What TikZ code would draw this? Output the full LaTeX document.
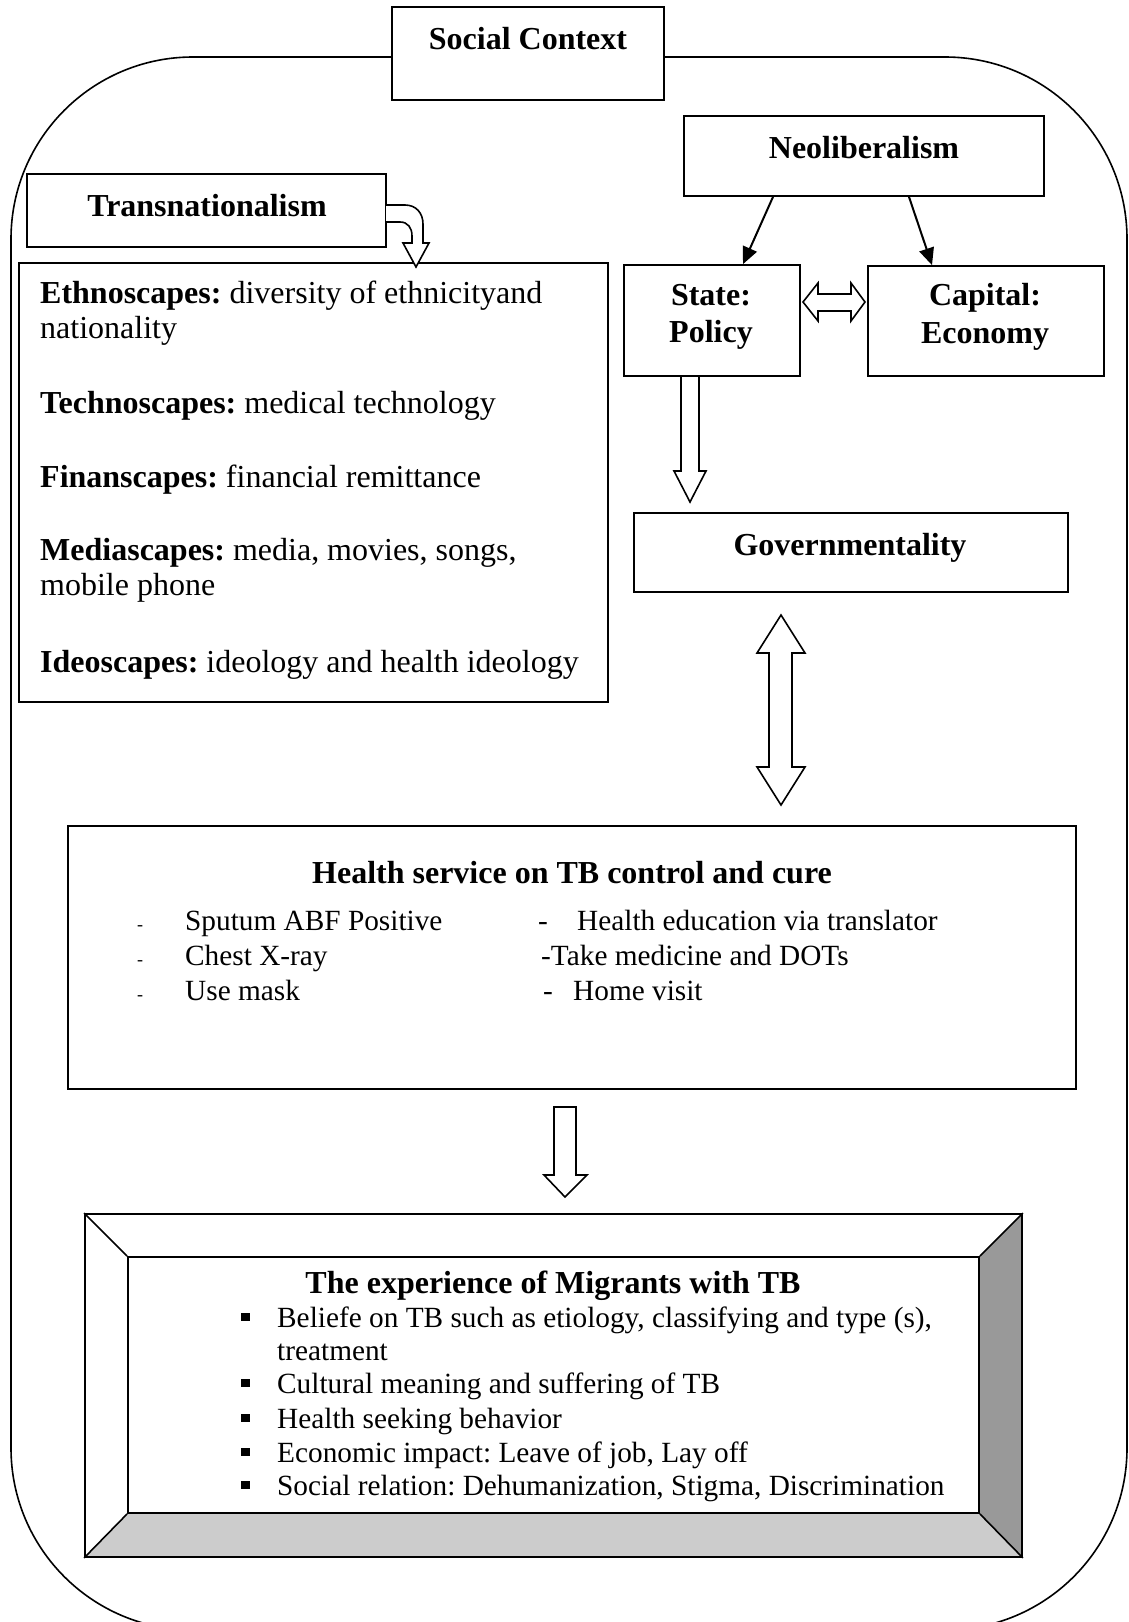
\documentclass[tikz,border=0pt]{standalone}
\usepackage{fontspec}
\setmainfont{Liberation Serif}
\usetikzlibrary{arrows.meta,calc}
\definecolor{bevdark}{RGB}{153,153,153}
\definecolor{bevlight}{RGB}{204,204,204}
\frenchspacing
\tikzset{
  box/.style={draw, line width=1.8pt, inner sep=0pt, fill=white},
  txt/.style={inner sep=0pt, font=\fontsize{29.3}{34}\selectfont},
  stxt/.style={inner sep=0pt, font=\fontsize{32}{35}\selectfont},
  btxt/.style={inner sep=0pt, font=\fontsize{32}{35}\selectfont\bfseries},
  hollow/.style={draw, line width=1.6pt, fill=white, line join=miter},
  thinarrow/.style={line width=2pt, -{Triangle[length=17pt,width=15pt]}},
  smalldash/.style={inner sep=0pt, font=\fontsize{18}{20}\selectfont},
}
\begin{document}
\begin{tikzpicture}[x=1pt,y=-1pt]
\clip (0,0) rectangle (1129,1622);
\fill[white] (0,0) rectangle (1129,1622);
% outer rounded outline
\draw[line width=1.6pt, rounded corners=182pt] (11,57) rectangle (1127,1630);
% boxes
\node[box, minimum width=272pt, minimum height=93pt] (social) at (528,53.5) {};
\node[box, minimum width=359pt, minimum height=73pt] (trans) at (206.5,210.5) {};
\node[box, minimum width=589pt, minimum height=439pt] (scapes) at (313.5,482.5) {};
\node[box, minimum width=360pt, minimum height=80pt] (neo) at (864,156) {};
\node[box, minimum width=176pt, minimum height=111pt] (state) at (712,320.5) {};
\node[box, minimum width=236pt, minimum height=110pt] (capital) at (986,321) {};
\node[box, minimum width=434pt, minimum height=79pt] (gov) at (851,552.5) {};
\node[box, minimum width=1008pt, minimum height=263pt] (health) at (572,957.5) {};

% titles
\node[btxt, anchor=base] at (528,49) {Social Context};
\node[btxt, anchor=base] at (207,216) {Transnationalism};
\node[btxt, anchor=base] at (864,158) {Neoliberalism};
\node[btxt, anchor=base] at (711,305) {State:};
\node[btxt, anchor=base] at (711,342) {Policy};
\node[btxt, anchor=base] at (985,305) {Capital:};
\node[btxt, anchor=base] at (985,343) {Economy};
\node[btxt, anchor=base] at (850,555) {Governmentality};
\node[btxt, anchor=base] at (572,883) {Health service on TB control and cure};

% scapes text
\node[stxt, anchor=base west] at (40,303) {\textbf{Ethnoscapes:} diversity of ethnicityand};
\node[stxt, anchor=base west] at (40,338) {nationality};
\node[stxt, anchor=base west] at (40,413) {\textbf{Technoscapes:} medical technology};
\node[stxt, anchor=base west] at (40,487) {\textbf{Finanscapes:} financial remittance};
\node[stxt, anchor=base west] at (40,560) {\textbf{Mediascapes:} media, movies, songs,};
\node[stxt, anchor=base west] at (40,595) {mobile phone};
\node[stxt, anchor=base west] at (40,672) {\textbf{Ideoscapes:} ideology and health ideology};

% health service items
\foreach \yy in {930,965,1000} {\node[smalldash, anchor=base west] at (137,\yy) {-};}
\node[txt, anchor=base west] at (185,930) {Sputum ABF Positive};
\node[txt, anchor=base west] at (185,965) {Chest X-ray};
\node[txt, anchor=base west] at (185,1000) {Use mask};
\node[txt, anchor=base west] at (538,930) {-};
\node[txt, anchor=base west] at (577,930) {Health education via translator};
\node[txt, anchor=base west] at (541,965) {-Take medicine and DOTs};
\node[txt, anchor=base west] at (543,1000) {-};
\node[txt, anchor=base west] at (573,1000) {Home visit};

% thin arrows from Neoliberalism
\draw[thinarrow] ([xshift=-91pt]neo.south) -- ([xshift=31pt]state.north);
\draw[thinarrow] ([xshift=45pt]neo.south) -- ([xshift=-54pt]capital.north);

% curved hollow arrow Transnationalism -> scapes
\draw[hollow] (386,205) -- (405,205) .. controls (416,205) and (423,213) .. (423,224)
  -- (423,243) -- (429,243) -- (416,267) -- (403,243) -- (412,243) -- (412,236)
  .. controls (412,228) and (408,222) .. (400,222) -- (386,222);

% horizontal double hollow arrow state <-> capital
\draw[hollow] (803,302) -- (818,283) -- (818,294) -- (851,294) -- (851,283) -- (865,302)
  -- (851,321) -- (851,311) -- (818,311) -- (818,321) -- cycle;

% hollow down arrow state -> gov
\draw[hollow] (681,377) -- (681,471) -- (674,471) -- (690,502) -- (706,471) -- (699,471) -- (699,377);

% vertical double hollow arrow gov <-> health
\draw[hollow] (781,615) -- (805,653) -- (792,653) -- (792,767) -- (805,767) -- (781,805)
  -- (757,767) -- (769,767) -- (769,653) -- (757,653) -- cycle;

% hollow down arrow health -> experience
\draw[hollow] (554,1107) -- (576,1107) -- (576,1175) -- (587,1175) -- (565,1197)
  -- (544,1175) -- (554,1175) -- cycle;

% bevel frame
\coordinate (onw) at (85,1214);  \coordinate (one) at (1022,1214);
\coordinate (osw) at (85,1557);  \coordinate (ose) at (1022,1557);
\coordinate (inw) at (128,1257); \coordinate (ine) at (979,1257);
\coordinate (isw) at (128,1513); \coordinate (ise) at (979,1513);
\fill[white] (onw) rectangle (ose);
\fill[bevdark] (one) -- (ose) -- (ise) -- (ine) -- cycle;
\fill[bevlight] (osw) -- (ose) -- (ise) -- (isw) -- cycle;
\node[draw, line width=1.8pt, inner sep=0pt, minimum width=937pt, minimum height=343pt] (frame) at (553.5,1385.5) {};
\node[draw, line width=1.8pt, inner sep=0pt, minimum width=851pt, minimum height=256pt] (exper) at (553.5,1385) {};
\draw[line width=1.6pt] (frame.north west) -- (exper.north west);
\draw[line width=1.6pt] (frame.north east) -- (exper.north east);
\draw[line width=1.6pt] (frame.south west) -- (exper.south west);
\draw[line width=1.6pt] (frame.south east) -- (exper.south east);

\node[btxt, anchor=base] at (553,1293) {The experience of Migrants with TB};
\foreach \yy in {1327,1393,1428,1462,1495} {\fill (241,\yy-14) rectangle (250,\yy-6);}
\node[txt, anchor=base west] at (277,1327) {Beliefe on TB such as etiology, classifying and type (s),};
\node[txt, anchor=base west] at (277,1360) {treatment};
\node[txt, anchor=base west] at (277,1393) {Cultural meaning and suffering of TB};
\node[txt, anchor=base west] at (277,1428) {Health seeking behavior};
\node[txt, anchor=base west] at (277,1462) {Economic impact: Leave of job, Lay off};
\node[txt, anchor=base west] at (277,1495) {Social relation: Dehumanization, Stigma, Discrimination};
\end{tikzpicture}
\end{document}
